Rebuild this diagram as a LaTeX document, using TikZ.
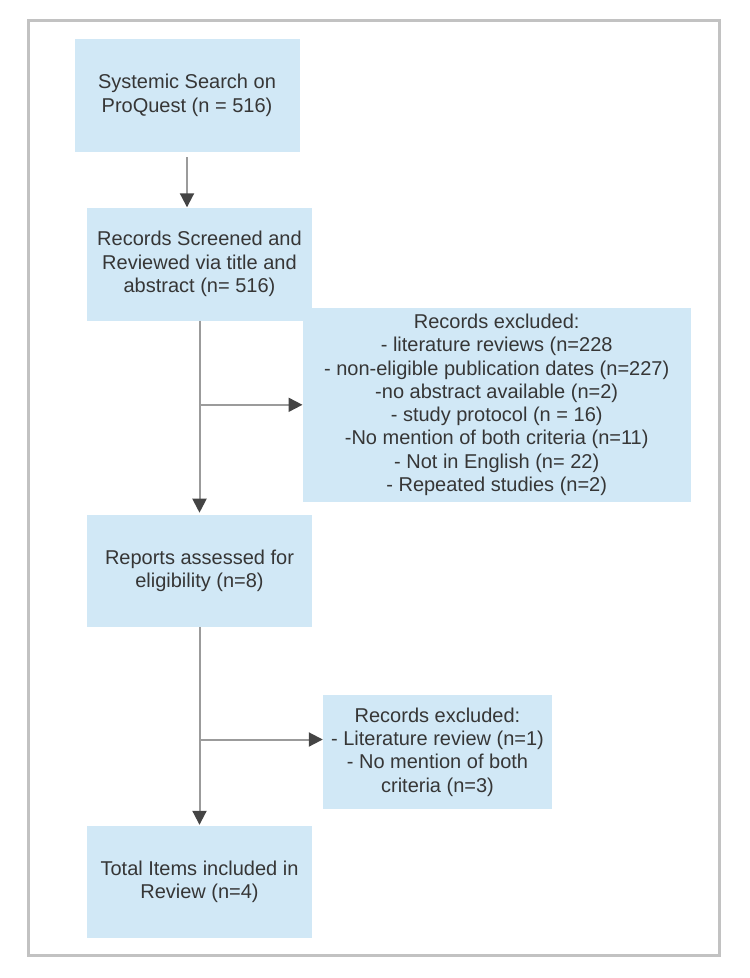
\documentclass[tikz,border=0pt]{standalone}
\usepackage{fontspec}
\setmainfont{Liberation Sans}
\usetikzlibrary{arrows.meta}
\definecolor{boxfill}{HTML}{D1E8F6}
\definecolor{txt}{HTML}{363636}
\definecolor{linec}{HTML}{9B9B9B}
\definecolor{tipc}{HTML}{444444}
\definecolor{framec}{HTML}{C2C2C2}
\begin{document}
\begin{tikzpicture}[x=1pt,y=-1pt,
  box/.style={fill=boxfill, text=txt, align=center, inner sep=0pt,
    font=\fontsize{20}{23.3}\selectfont},
  conn/.style={draw=linec, line width=2pt,
    -{Triangle[length=14pt,width=14pt,color=tipc]}},
]
\useasboundingbox (0,0) rectangle (750,978);
\draw[framec, line width=3pt] (28,20.5) rectangle (719.5,955);

\node[box, minimum width=225pt, minimum height=113pt] (b1) at (187,95.2)
  {Systemic Search on\\ProQuest (n = 516)};
\node[box, minimum width=388pt, minimum height=194.5pt] (b3) at (496.7,404.8)
  {Records excluded:\\
   - literature reviews (n=228\\
   - non-eligible publication dates (n=227)\\
   -no abstract available (n=2)\\
   - study protocol (n = 16)\\
   -No mention of both criteria (n=11)\\
   - Not in English (n= 22)\\
   - Repeated studies (n=2)};
\node[box, minimum width=224.5pt, minimum height=113pt] (b2) at (199.5,264)
  {Records Screened and\\Reviewed via title and\\abstract (n= 516)};
\node[box, minimum width=225pt, minimum height=112pt] (b4) at (199.5,570.9)
  {Reports assessed for\\eligibility (n=8)};
\node[box, minimum width=229pt, minimum height=114pt] (b5) at (437.5,752)
  {Records excluded:\\- Literature review (n=1)\\- No mention of both\\criteria (n=3)};
\node[box, minimum width=225pt, minimum height=112pt] (b6) at (199.5,882)
  {Total Items included in\\Review (n=4)};

\coordinate (j2) at (199.5,739.5);

\draw[conn] ([yshift=-5.5pt]b1.south) -- (b1.south |- b2.north);
\draw[conn, shorten >=2pt] (b2.south) -- (b4.north);
\draw[conn] (b2.south |- b3.west) -- (b3.west);
\draw[conn, shorten >=1pt] (b4.south) -- (b6.north);
\draw[conn] (j2) -- (j2 -| b5.west);
\end{tikzpicture}
\end{document}
